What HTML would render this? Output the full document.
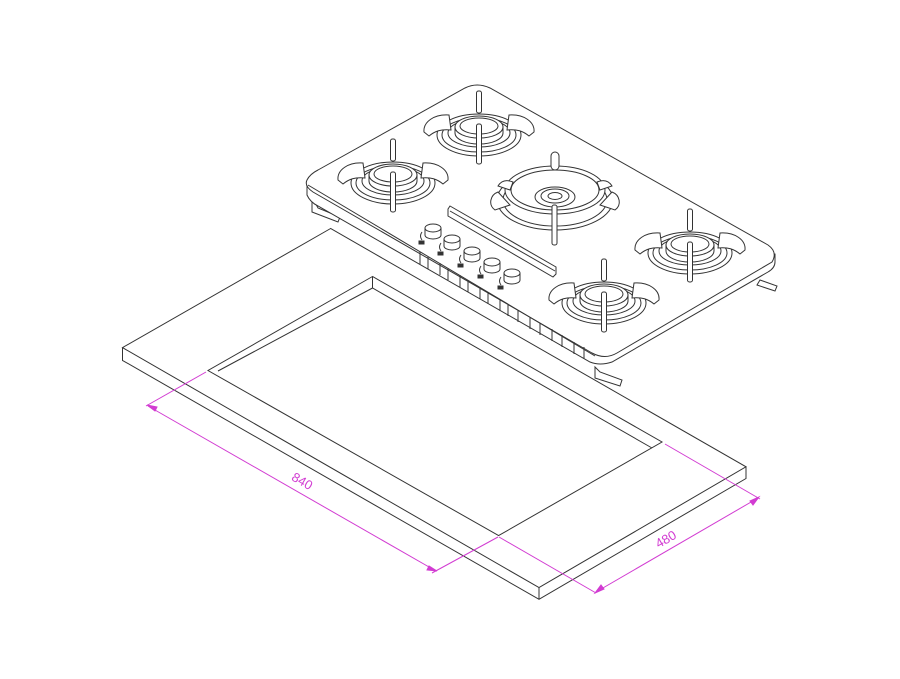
<!DOCTYPE html>
<html><head><meta charset="utf-8"><style>
html,body{margin:0;padding:0;background:#fff;}
svg{display:block}
</style></head><body>
<svg width="900" height="679" viewBox="0 0 900 679" xmlns="http://www.w3.org/2000/svg">
<defs>
<g id="burner" fill="#fff" stroke="#333" stroke-width="1">
  <ellipse cx="0" cy="8" rx="42" ry="21"/>
  <ellipse cx="0" cy="8" rx="37" ry="17"/>
  <ellipse cx="0" cy="6" rx="31" ry="14"/>
  <path d="M-30,-12 C-45,-13 -56,-5 -55,5 L-50,9 C-44,4 -38,2 -28,3 Z"/>
  <path d="M30,-12 C45,-13 56,-5 55,5 L50,9 C44,4 38,2 28,3 Z"/>
  <path d="M-24,0 L-24,6 A24 11 0 0 0 24,6 L24,0"/>
  <ellipse cx="0" cy="0" rx="24" ry="11"/>
  <ellipse cx="0" cy="-1" rx="19" ry="8"/>
  <rect x="-2.5" y="-36" width="5" height="22" rx="2"/>
  <rect x="-2.5" y="-3" width="5" height="40" rx="2"/>
</g>
<g id="knob" fill="#fff" stroke="#333" stroke-width="1">
  <path d="M-8,0 L-8,7 A8 4 0 0 0 8,7 L8,0"/>
  <ellipse cx="0" cy="0" rx="8" ry="4"/>
  <path d="M-11,4 q-3,4 0,8" fill="none"/>
  <rect x="-14" y="13" width="5" height="3" fill="#333"/>
</g>
</defs>

<g fill="none" stroke="#333" stroke-width="1">
  <polygon points="330.6,228.5 122.5,347.6 539,587.6 746,466.8" fill="#fff"/>
  <polyline points="122.5,347.6 122.5,360.4 539,599.3 746,478.5 746,466.8"/>
  <line x1="539" y1="587.6" x2="539" y2="599.3"/>
  <polygon points="372.5,276.5 208,370.5 498.6,535.6 662,442"/>
  <polyline points="218,371 372.5,288 652,448"/>
  <line x1="372.5" y1="276.5" x2="372.5" y2="288"/>
</g>

<g stroke="#d23cd2" stroke-width="1" fill="#d23cd2">
  <line x1="206" y1="372" x2="146" y2="406"/>
  <line x1="498" y1="537" x2="432" y2="573"/>
  <line x1="148" y1="406" x2="436" y2="571"/>
  <polygon points="147,405 157,407 155,411"/>
  <polygon points="437,571 427,570 429,566"/>
  <line x1="665" y1="444" x2="760" y2="499"/>
  <line x1="499" y1="537" x2="596" y2="593"/>
  <line x1="596" y1="592" x2="758" y2="498"/>
  <polygon points="595,593 601,585 604,589"/>
  <polygon points="759,497 753,505 750,501"/>
  <text x="300" y="485" font-family="Liberation Sans, sans-serif" font-size="13" stroke="none" text-anchor="middle" transform="rotate(30 300 485)">840</text>
  <text x="668" y="543" font-family="Liberation Sans, sans-serif" font-size="13" stroke="none" text-anchor="middle" transform="rotate(-30 668 543)">480</text>
</g>

<g fill="#fff" stroke="#333" stroke-width="1">
  <path d="M312,197 L312,212 L338,222 L340,217 L318,208 Z"/>
  <path d="M757,285 L775,291 L777,286 L760,280 Z"/>
  <path d="M595,367 L595,378 L620,386 L622,380 L600,372 Z"/>
  <path d="M307,182 L307,195 Q310,202 318,206 L590,362 Q600,366 612,362 L768,272 Q775,268 775,262 L775,254 Z"/>
  <path d="M318,170 L465,88 Q477,82 490,88 L768,245 Q778,252 772,262 L617,353 Q605,360 592,353 L313,192 Q304,186 307,180 Q310,174 318,170 Z"/>
  <line x1="308" y1="185" x2="595" y2="356"/>
  <g fill="none">
    <path d="M420,252 l0,12 M428,257 l0,12 M440,263 l0,12 M448,268 l0,12 M460,275 l0,12 M468,280 l0,12 M480,287 l0,12 M488,292 l0,12 M500,299 l0,12 M508,304 l0,12 M518,310 l0,12 M530,317 l0,12 M540,323 l0,12 M552,329 l0,12 M562,335 l0,12 M574,342 l0,12 M584,347 l0,12"/>
  </g>
  <use href="#burner" x="393" y="175"/>
  <use href="#burner" x="479" y="127"/>
  <use href="#burner" x="690" y="245"/>
  <use href="#burner" x="604" y="295"/>
  <g>
    <ellipse cx="555" cy="200" rx="58" ry="30"/>
    <ellipse cx="555" cy="200" rx="52" ry="26"/>
    <path d="M498,192 C490,195 488,205 495,210 L510,205 Z"/>
    <path d="M612,192 C620,195 622,205 615,210 L600,205 Z"/>
    <ellipse cx="555" cy="190" rx="50" ry="24"/>
    <ellipse cx="555" cy="190" rx="44" ry="20"/>
    <ellipse cx="555" cy="197" rx="20" ry="10"/>
    <ellipse cx="555" cy="196" rx="14" ry="7"/>
    <ellipse cx="555" cy="196" rx="7" ry="3.5"/>
    <rect x="551" y="152" width="8" height="18" rx="4"/>
    <path d="M498,186 q5,-8 15,-4 l-3,8 z"/>
    <path d="M612,186 q-5,-8 -15,-4 l3,8 z"/>
    <rect x="552" y="205" width="5" height="40" rx="2"/>
  </g>
  <path d="M450,206 L556,267 L556,274 L553,277 L448,216 L448,209 Z"/>
  <line x1="450" y1="211" x2="555" y2="271"/>
  <use href="#knob" x="433" y="228"/>
  <use href="#knob" x="452" y="239"/>
  <use href="#knob" x="472" y="251"/>
  <use href="#knob" x="492" y="262"/>
  <use href="#knob" x="512" y="273"/>
</g>
</svg>
</body></html>
